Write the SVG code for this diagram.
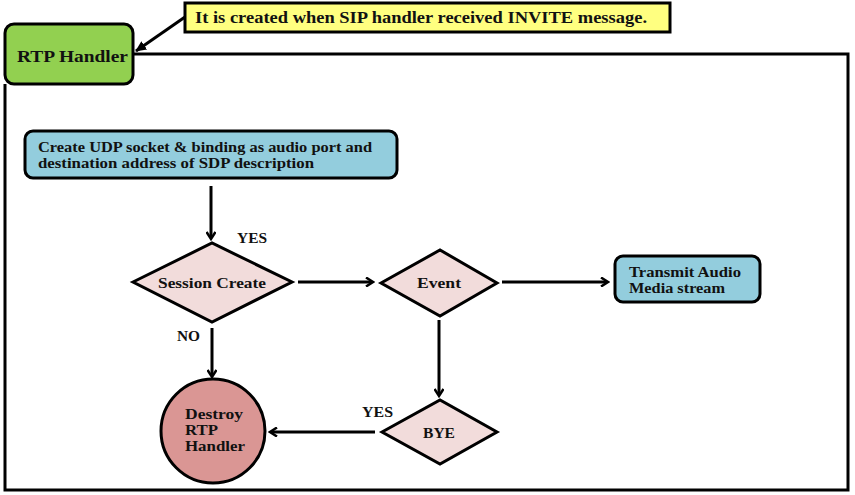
<svg xmlns="http://www.w3.org/2000/svg" width="855" height="495" viewBox="0 0 855 495">
<style>
text{font-family:"Liberation Serif","Times New Roman",serif;font-weight:bold;fill:#111}
.conn{stroke:#000;stroke-width:3;fill:none}
.dia{fill:#F2DCDB;stroke:#000;stroke-width:3}
.blue{fill:#93CDDD;stroke:#000;stroke-width:3}
</style>
<defs>
<marker id="ah" markerWidth="10" markerHeight="10" refX="7" refY="5" orient="auto" markerUnits="userSpaceOnUse" viewBox="0 0 10 10">
<path d="M1,0.5 L8,5 L1,9.5" fill="none" stroke="#000" stroke-width="2.5"/>
</marker>
<marker id="ah2" markerWidth="12" markerHeight="12" refX="10" refY="6" orient="auto" markerUnits="userSpaceOnUse" viewBox="0 0 12 12">
<path d="M0,1 L11,6 L0,11 z" fill="#000"/>
</marker>
</defs>
<rect width="855" height="495" fill="#fff"/>
<g id="frame">
<path d="M133,54 H848 V490 H5 V84" fill="none" stroke="#000" stroke-width="3"/>
</g>
<g id="callout">
<rect x="185" y="3" width="485" height="29" fill="#FFFF80" stroke="#000" stroke-width="3"/>
<text x="195" y="23" font-size="16" textLength="452" lengthAdjust="spacingAndGlyphs">It is created when SIP handler received INVITE message.</text>
</g>
<g id="rtp">
<rect x="5" y="24" width="128" height="60" rx="9" fill="#92D050" stroke="#000" stroke-width="3"/>
<text x="17" y="62" font-size="17" textLength="111" lengthAdjust="spacingAndGlyphs">RTP Handler</text>
</g>
<g id="create">
<rect x="25" y="131" width="372" height="47" rx="8" class="blue"/>
<text x="38" y="152" font-size="14" textLength="334" lengthAdjust="spacingAndGlyphs">Create UDP socket &amp; binding as audio port and</text>
<text x="38" y="168" font-size="14" textLength="276" lengthAdjust="spacingAndGlyphs">destination address of SDP description</text>
</g>
<g id="session">
<polygon points="133,282 212,243 292,282 212,322" class="dia"/>
<text x="158" y="288" font-size="14.5" textLength="108" lengthAdjust="spacingAndGlyphs">Session Create</text>
</g>
<g id="event">
<polygon points="381,283 440,250 497,283 440,316" class="dia"/>
<text x="417" y="288" font-size="14.5" textLength="44" lengthAdjust="spacingAndGlyphs">Event</text>
</g>
<g id="transmit">
<rect x="615" y="256" width="145" height="46" rx="8" class="blue"/>
<text x="629" y="277" font-size="14" textLength="112" lengthAdjust="spacingAndGlyphs">Transmit Audio</text>
<text x="629" y="293" font-size="14" textLength="96" lengthAdjust="spacingAndGlyphs">Media stream</text>
</g>
<g id="destroy">
<ellipse cx="213" cy="431" rx="52" ry="52" fill="#DA9694" stroke="#000" stroke-width="3"/>
<text x="185" y="419" font-size="14.5" textLength="58" lengthAdjust="spacingAndGlyphs">Destroy</text>
<text x="185" y="435" font-size="14.5" textLength="33" lengthAdjust="spacingAndGlyphs">RTP</text>
<text x="185" y="451" font-size="14.5" textLength="60" lengthAdjust="spacingAndGlyphs">Handler</text>
</g>
<g id="bye">
<polygon points="382,432 440,400 497,432 440,464" class="dia"/>
<text x="423" y="438" font-size="14.5" textLength="32" lengthAdjust="spacingAndGlyphs">BYE</text>
</g>
<g id="connectors">
<line x1="185" y1="17" x2="136" y2="51" class="conn" marker-end="url(#ah2)"/>
<line x1="211" y1="186" x2="211" y2="238" class="conn" marker-end="url(#ah)"/>
<line x1="298" y1="282" x2="372" y2="282" class="conn" marker-end="url(#ah)"/>
<line x1="502" y1="282" x2="607" y2="282" class="conn" marker-end="url(#ah)"/>
<line x1="212" y1="328" x2="212" y2="376" class="conn" marker-end="url(#ah)"/>
<line x1="439" y1="320" x2="439" y2="395" class="conn" marker-end="url(#ah)"/>
<line x1="375" y1="432" x2="271" y2="432" class="conn" marker-end="url(#ah)"/>
<text x="237" y="243" font-size="14.5" textLength="30" lengthAdjust="spacingAndGlyphs">YES</text>
<text x="177" y="341" font-size="14.5" textLength="23" lengthAdjust="spacingAndGlyphs">NO</text>
<text x="362" y="417" font-size="14.5" textLength="31" lengthAdjust="spacingAndGlyphs">YES</text>
</g>
</svg>
